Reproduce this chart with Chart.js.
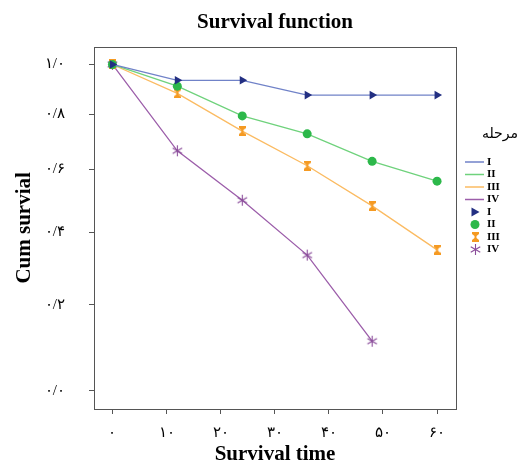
<!DOCTYPE html>
<html>
<head>
<meta charset="utf-8">
<script src="https://cdn.jsdelivr.net/npm/chart.js@4/dist/chart.umd.min.js"></script>
<style>
  body { margin: 0; background: #fff; }
  #wrap { width: 521px; height: 462px; }
</style>
</head>
<body>
<div id="wrap"><canvas id="survChart" width="521" height="462"></canvas></div>
<script>
// survival times (x) and cumulative survival per stage
const TIMES = [0, 12, 24, 36, 48, 60];
const STAGE_I = [1.0, 0.934, 0.934, 0.874, 0.874, 0.874];
const STAGE_II = [1.0, 0.910, 0.793, 0.726, 0.628, 0.561];
const STAGE_III = [1.0, 0.881, 0.736, 0.613, 0.481, 0.349];
const STAGE_IV = [1.0, 0.665, 0.499, 0.334, 0.111];

const STAGE_NAMES = ["I", "II", "III", "IV"];
const X_TICKS = [0, 10, 20, 30, 40, 50, 60];
const X_TICK_LABELS = ["۰", "۱۰", "۲۰", "۳۰", "۴۰", "۵۰", "۶۰"];
const Y_TICKS = [0, 0.2, 0.4, 0.6, 0.8, 1.0];
const Y_TICK_LABELS = ["۰/۰", "۰/۲", "۰/۴", "۰/۶", "۰/۸", "۱/۰"];
const LEGEND_TITLE = "مرحله";

const LINE_COLORS = ["#7082c8", "#6fd27c", "#fbbb62", "#9c5eaa"];
const MARK_COLORS = ["#232f82", "#2cb84a", "#f59a22", "#8a4c9a"];

// y axis of the original is spaced like log(1 + S)
class Log1pScale extends Chart.LinearScale {
  static id = "log1p";
  static defaults = Chart.LinearScale.defaults;
  getPixelForValue(value) {
    const a = Math.log1p(this.min), b = Math.log1p(this.max);
    return this.getPixelForDecimal((Math.log1p(value) - a) / (b - a));
  }
  getValueForPixel(pixel) {
    const a = Math.log1p(this.min), b = Math.log1p(this.max);
    return Math.expm1(a + this.getDecimalForPixel(pixel) * (b - a));
  }
}
Chart.register(Log1pScale);

function hourglass(color) {
  const c = document.createElement("canvas");
  c.width = 7; c.height = 10;
  const g = c.getContext("2d");
  g.fillStyle = color;
  g.beginPath();
  g.moveTo(0, 0); g.lineTo(7, 0); g.lineTo(7, 2); g.lineTo(4.5, 4); g.lineTo(4.5, 6);
  g.lineTo(7, 8); g.lineTo(7, 10); g.lineTo(0, 10); g.lineTo(0, 8); g.lineTo(2.5, 6);
  g.lineTo(2.5, 4); g.lineTo(0, 2);
  g.closePath();
  g.fill();
  return c;
}

function asterisk(color) {
  const c = document.createElement("canvas");
  c.width = 13; c.height = 13;
  const g = c.getContext("2d");
  g.strokeStyle = color;
  g.lineWidth = 1.1;
  g.beginPath();
  [90, 30, 150].forEach(deg => {
    const r = deg * Math.PI / 180;
    g.moveTo(6.5 - 5.5 * Math.cos(r), 6.5 - 5.5 * Math.sin(r));
    g.lineTo(6.5 + 5.5 * Math.cos(r), 6.5 + 5.5 * Math.sin(r));
  });
  g.stroke();
  return c;
}

const hourImg = hourglass(MARK_COLORS[2]);
const starImg = asterisk(MARK_COLORS[3]);

const series = [STAGE_I, STAGE_II, STAGE_III, STAGE_IV];
const styles = ["triangle", "circle", hourImg, starImg];

const datasets = series.map((vals, i) => ({
  label: STAGE_NAMES[i],
  data: vals.map((v, j) => ({ x: TIMES[j], y: v })),
  borderColor: LINE_COLORS[i],
  borderWidth: 1.3,
  backgroundColor: MARK_COLORS[i],
  pointBackgroundColor: MARK_COLORS[i],
  pointBorderColor: MARK_COLORS[i],
  pointBorderWidth: 0,
  pointStyle: styles[i],
  pointRotation: i === 0 ? 90 : 0,
  pointRadius: i === 0 ? 5 : 4.5,
  tension: 0,
  fill: false,
}));

const boxPlugin = {
  id: "plotBox",
  beforeDatasetsDraw(chart) {
    const { ctx, chartArea: a } = chart;
    ctx.save();
    ctx.strokeStyle = "#555";
    ctx.lineWidth = 1;
    ctx.strokeRect(Math.round(a.left) + 0.5, Math.round(a.top) + 0.5,
      Math.round(a.right - a.left), Math.round(a.bottom - a.top));
    ctx.restore();
  },
};

const legendPlugin = {
  id: "stageLegend",
  afterDraw(chart) {
    const ctx = chart.ctx;
    ctx.save();
    ctx.fillStyle = "#000";
    ctx.font = '14px "DejaVu Sans"';
    ctx.textAlign = "right";
    ctx.textBaseline = "middle";
    ctx.fillText(LEGEND_TITLE, 518, 134);

    ctx.font = 'bold 11px "Liberation Serif"';
    ctx.textAlign = "left";
    const y0 = 162, step = 12.5;
    STAGE_NAMES.forEach((name, i) => {
      const y = y0 + i * step;
      ctx.strokeStyle = LINE_COLORS[i];
      ctx.lineWidth = 1.5;
      ctx.beginPath();
      ctx.moveTo(465, y);
      ctx.lineTo(484, y);
      ctx.stroke();
      ctx.fillStyle = "#000";
      ctx.fillText(name, 487, y);
    });
    STAGE_NAMES.forEach((name, i) => {
      const y = y0 + (i + 4) * step;
      const x = 475;
      ctx.fillStyle = MARK_COLORS[i];
      if (i === 0) {
        ctx.beginPath();
        ctx.moveTo(x + 4.5, y);
        ctx.lineTo(x - 3.5, y - 4.5);
        ctx.lineTo(x - 3.5, y + 4.5);
        ctx.closePath();
        ctx.fill();
      } else if (i === 1) {
        ctx.beginPath();
        ctx.arc(x, y, 4.5, 0, Math.PI * 2);
        ctx.fill();
      } else {
        const img = i === 2 ? hourImg : starImg;
        ctx.drawImage(img, Math.round(x - img.width / 2), Math.round(y - img.height / 2));
      }
      ctx.fillStyle = "#000";
      ctx.fillText(name, 487, y);
    });
    ctx.restore();
  },
};

new Chart(document.getElementById("survChart"), {
  type: "line",
  data: { datasets },
  plugins: [boxPlugin, legendPlugin],
  options: {
    responsive: false,
    animation: false,
    events: [],
    layout: { padding: { left: 0, right: 65, top: 0, bottom: 0 } },
    plugins: {
      legend: { display: false },
      tooltip: { enabled: false },
      title: {
        display: true,
        fullSize: false,
        text: "Survival function",
        color: "#000",
        font: { family: '"Liberation Serif"', size: 21, weight: "bold", lineHeight: 1.2 },
        padding: { top: 9.5, bottom: 12 },
      },
    },
    scales: {
      x: {
        type: "linear",
        min: -3.4,
        max: 63.5,
        afterBuildTicks: s => { s.ticks = X_TICKS.map(v => ({ value: v })); },
        afterFit: s => { s.height = 53; },
        grid: { drawOnChartArea: false, tickLength: 5, color: "#555" },
        border: { display: false },
        ticks: {
          padding: 10,
          color: "#000",
          font: { family: '"Liberation Serif"', size: 15 },
          maxRotation: 0,
          callback: v => X_TICK_LABELS[X_TICKS.indexOf(v)],
        },
        title: {
          display: true,
          text: "Survival time",
          color: "#000",
          font: { family: '"Liberation Serif"', size: 21, weight: "bold", lineHeight: 0.67 },
          padding: { top: 0, bottom: 0 },
        },
      },
      y: {
        type: "log1p",
        min: -0.038,
        max: 1.077,
        afterBuildTicks: s => { s.ticks = Y_TICKS.map(v => ({ value: v })); },
        afterFit: s => { s.width = 94; },
        grid: { drawOnChartArea: false, tickLength: 5, color: "#555" },
        border: { display: false },
        ticks: {
          padding: 24,
          color: "#000",
          font: { family: '"Liberation Serif"', size: 15 },
          callback: v => Y_TICK_LABELS[Y_TICKS.indexOf(v)],
        },
        title: {
          display: true,
          text: "Cum survial",
          color: "#000",
          font: { family: '"Liberation Serif"', size: 21, weight: "bold", lineHeight: 1.2 },
          padding: { top: 12, bottom: 0 },
        },
      },
    },
  },
});
</script>
</body>
</html>
